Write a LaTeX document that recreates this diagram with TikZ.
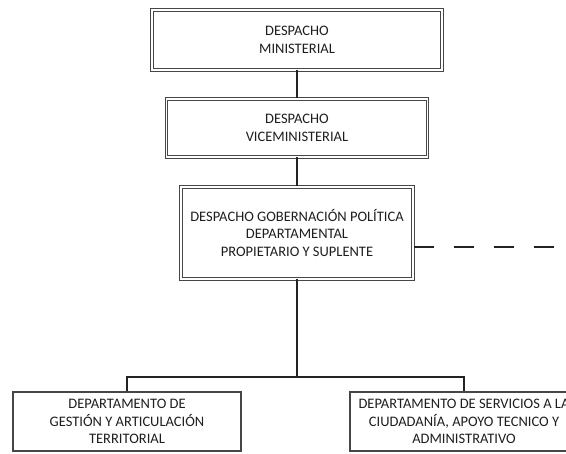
\documentclass[tikz,border=0pt]{standalone}
\usepackage{fontspec}
\setmainfont{Carlito}
\usepackage{tikz}
\usetikzlibrary{positioning}
\definecolor{boxgray}{RGB}{70,70,70}
\definecolor{inkgray}{RGB}{30,30,30}
\definecolor{linegray}{RGB}{35,35,35}

\begin{document}
\begin{tikzpicture}[
  x=1pt, y=-1pt,
  office/.style={rectangle, draw=boxgray, line width=1pt, double=white, double distance=1.8pt,
                 align=center, text=inkgray, inner sep=0pt,
                 font=\fontsize{14.5}{17.5}\selectfont},
  dept/.style={office, double=none, draw=boxgray, line width=1.3pt},
  conn/.style={line width=1.5pt, color=linegray},
  dashline/.style={conn, dash pattern=on 20pt off 20pt}
]
  \useasboundingbox (0,0) rectangle (566,454);
  \clip (0,0) rectangle (566,454);

  \node[office, minimum width=290, minimum height=60] (mini) at (297, 40)   {DESPACHO\\MINISTERIAL};
  \node[office, minimum width=261, minimum height=58] (vice) at (297,128)   {DESPACHO\\VICEMINISTERIAL};
  \node[office, minimum width=232, minimum height=92] (gob)  at (297,233)   {DESPACHO GOBERNACIÓN POLÍTICA\\DEPARTAMENTAL\\PROPIETARIO Y SUPLENTE};
  \node[dept, minimum width=228, minimum height=59]   (dgat) at (127,421.5) {DEPARTAMENTO DE\\GESTIÓN Y ARTICULACIÓN\\TERRITORIAL};
  \node[dept, minimum width=228, minimum height=59]   (dsac) at (464,421.5) {DEPARTAMENTO DE SERVICIOS A LA\\CIUDADANÍA, APOYO TECNICO Y\\ADMINISTRATIVO};

  \coordinate (split)   at (297,377);
  \coordinate (dashend) at (570,247);

  \draw[conn] (mini) -- (vice);
  \draw[conn] (vice) -- (gob);
  \draw[conn] (gob) -- (split);
  \draw[conn] (dgat) |- (split) -| (dsac);
  \draw[dashline] (gob.east |- dashend) -- (dashend);
\end{tikzpicture}
\end{document}
